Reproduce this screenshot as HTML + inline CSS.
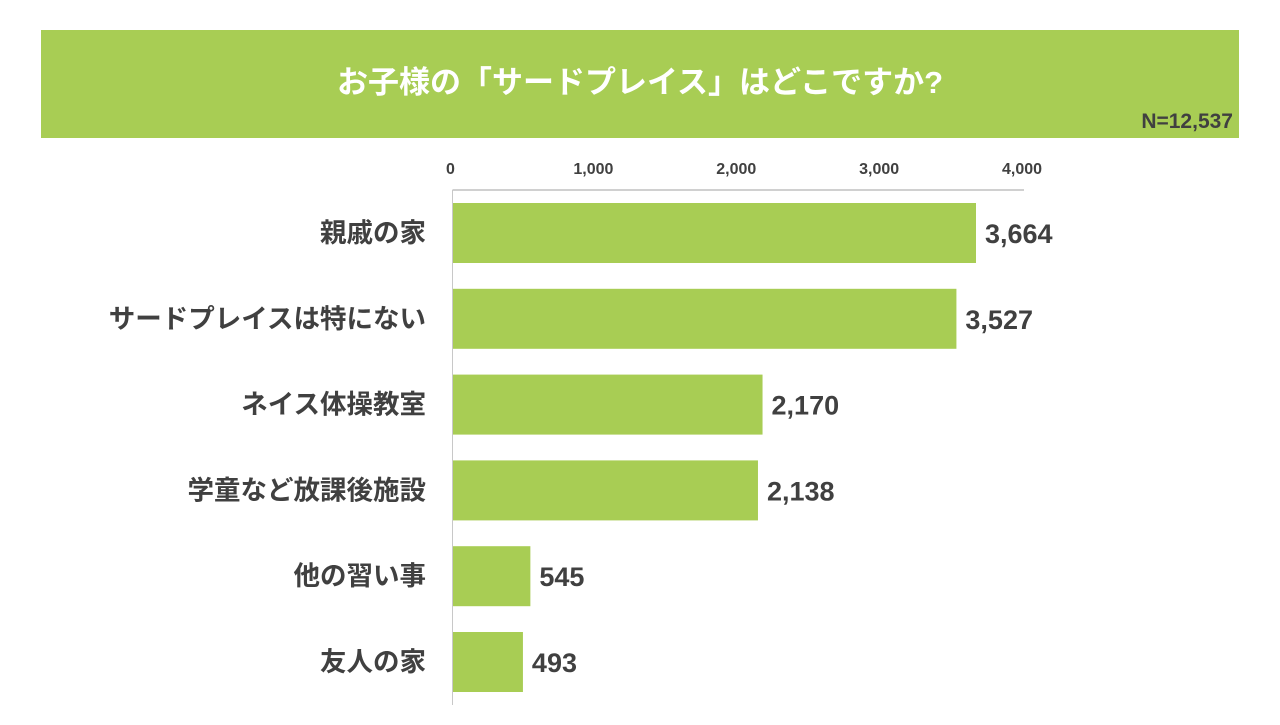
<!DOCTYPE html>
<html><head><meta charset="utf-8"><style>
body{margin:0;width:1280px;height:720px;background:#fff;overflow:hidden;font-family:"Liberation Sans","Noto Sans CJK JP",sans-serif}
</style></head><body>
<svg width="1280" height="720" xmlns="http://www.w3.org/2000/svg">
<rect x="41" y="30" width="1198" height="108" fill="#a8cd54"/>
<text x="640" y="93" text-anchor="middle" font-size="31" font-weight="bold" fill="#fff" font-family="Liberation Sans, Noto Sans CJK JP, sans-serif">お子様の「サードプレイス」はどこですか?</text>
<text x="1233" y="128" text-anchor="end" font-size="21" font-weight="bold" fill="#404040">N=12,537</text>
<g id="ticks"></g><g id="bars"></g>
<line x1="452.5" y1="190" x2="1024" y2="190" stroke="#a0a0a0" stroke-width="1"/>
<line x1="452.5" y1="190" x2="452.5" y2="705" stroke="#c8c8c8" stroke-width="1"/>
</svg>
<script>
const categories=["親戚の家","サードプレイスは特にない","ネイス体操教室","学童など放課後施設","他の習い事","友人の家"];
const values=[3664,3527,2170,2138,545,493];
const valueLabels=["3,664","3,527","2,170","2,138","545","493"];
const tickValues=[0,1000,2000,3000,4000];
const tickLabels=["0","1,000","2,000","3,000","4,000"];
const NS="http://www.w3.org/2000/svg";
const x0=452.5,x1=1024,xmax=4000;
const xs=v=>x0+(x1-x0)*v/xmax;
const ys=i=>203+i*85.8;
const bh=60;
const tg=document.getElementById('ticks'),bg=document.getElementById('bars');
tickValues.forEach((v,i)=>{
 const t=document.createElementNS(NS,'text');
 t.setAttribute('x',xs(v)-2);t.setAttribute('y',174);t.setAttribute('text-anchor','middle');
 t.setAttribute('font-size','16');t.setAttribute('font-weight','bold');t.setAttribute('fill','#404040');
 t.textContent=tickLabels[i];
 
 
 tg.appendChild(t);
});
categories.forEach((c,i)=>{
 const r=document.createElementNS(NS,'rect');
 r.setAttribute('x',x0);r.setAttribute('y',ys(i));r.setAttribute('width',xs(values[i])-x0);r.setAttribute('height',bh);
 r.setAttribute('fill','#a8cd54');
 
 
 bg.appendChild(r);
 const l=document.createElementNS(NS,'text');
 l.setAttribute('x',426);l.setAttribute('y',ys(i)+bh/2+9);l.setAttribute('text-anchor','end');
 l.setAttribute('font-size','26.5');l.setAttribute('font-weight','bold');l.setAttribute('fill','#404040');
 l.textContent=c;
 
 
 bg.appendChild(l);
 const v=document.createElementNS(NS,'text');
 v.setAttribute('x',xs(values[i])+9);v.setAttribute('y',ys(i)+bh/2+10);
 v.setAttribute('font-size','27');v.setAttribute('font-weight','bold');v.setAttribute('fill','#404040');
 v.textContent=valueLabels[i];
 
 
 bg.appendChild(v);
});
</script>
</body></html>
